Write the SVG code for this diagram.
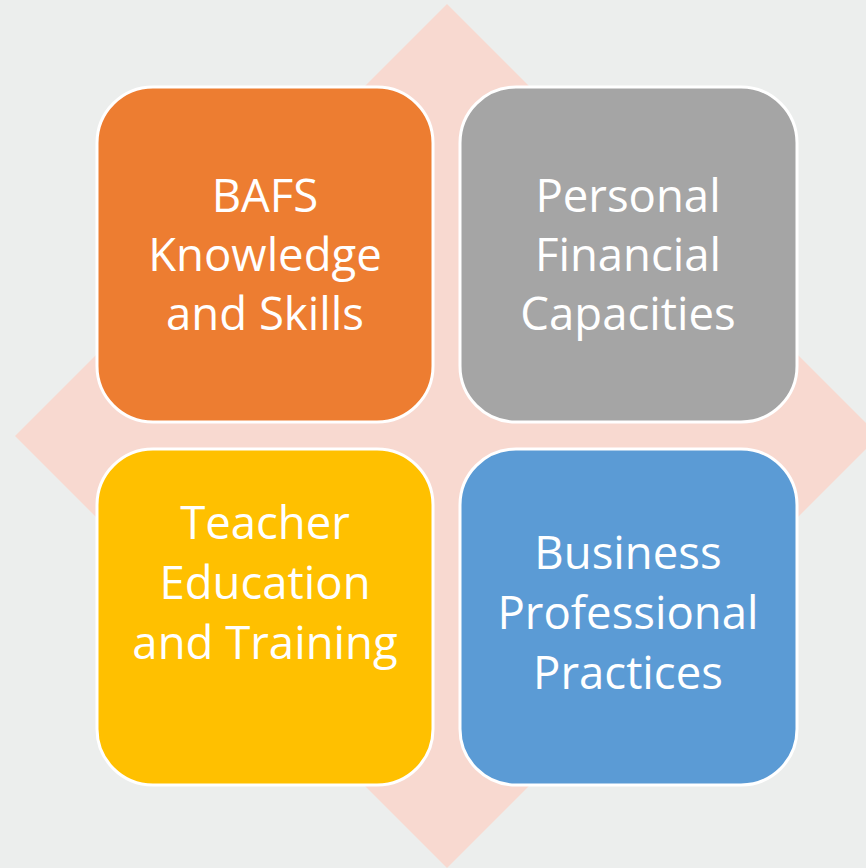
<svg xmlns="http://www.w3.org/2000/svg" width="866" height="868" viewBox="0 0 866 868">
<style>
.box{stroke:#FFFFFF;stroke-width:3}
.t{font-family:"Open Sans","Noto Sans","Liberation Sans",sans-serif;font-size:45.5px;fill:#FFFFFF;text-anchor:middle}
</style>
<rect x="0" y="0" width="866" height="868" fill="#ECEEED"/>
<polygon points="447,4 879,436 447,868 15,436" fill="#F8D9D0"/>
<g id="node-bafs">
<rect class="box" x="97" y="87" width="336" height="335" rx="56" ry="56" fill="#ED7D31"/>
<text class="t" x="265" y="212">BAFS</text>
<text class="t" x="265" y="271">Knowledge</text>
<text class="t" x="265" y="330">and Skills</text>
</g>
<g id="node-personal">
<rect class="box" x="460" y="87" width="337" height="335" rx="56" ry="56" fill="#A5A5A5"/>
<text class="t" x="628" y="212">Personal</text>
<text class="t" x="628" y="271">Financial</text>
<text class="t" x="628" y="330">Capacities</text>
</g>
<g id="node-teacher">
<rect class="box" x="97" y="449" width="336" height="336" rx="56" ry="56" fill="#FFC000"/>
<text class="t" x="265" y="539">Teacher</text>
<text class="t" x="265" y="599">Education</text>
<text class="t" x="265" y="659">and Training</text>
</g>
<g id="node-business">
<rect class="box" x="460" y="449" width="337" height="336" rx="56" ry="56" fill="#5B9BD5"/>
<text class="t" x="628" y="569">Business</text>
<text class="t" x="628" y="629">Professional</text>
<text class="t" x="628" y="689">Practices</text>
</g>
<g id="connectors"></g>
</svg>
